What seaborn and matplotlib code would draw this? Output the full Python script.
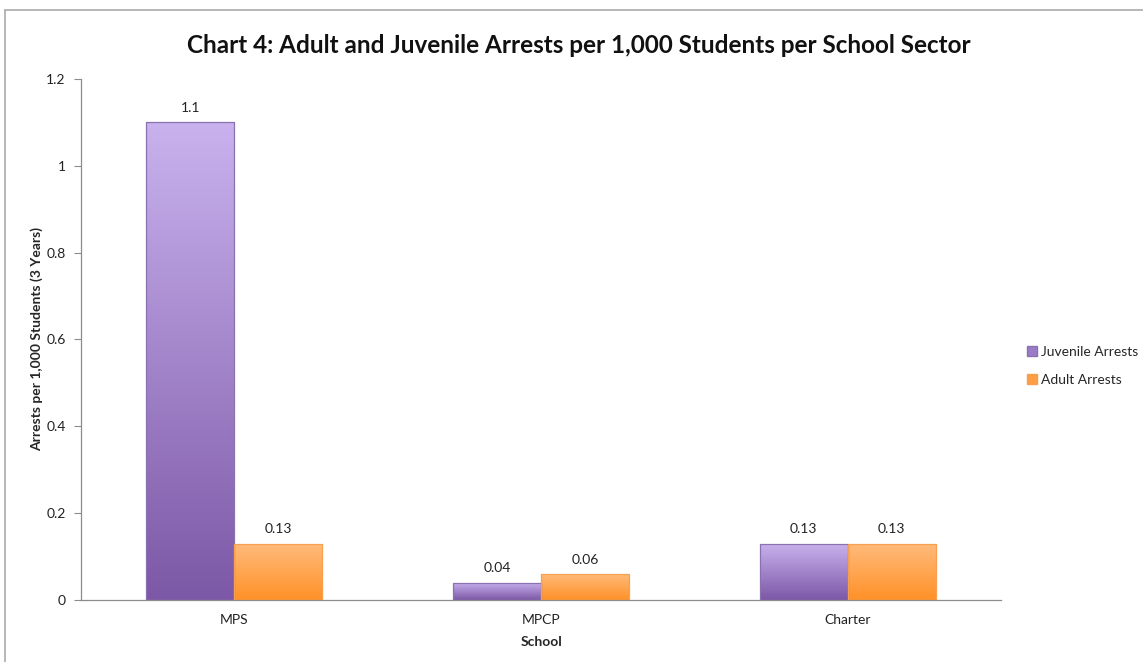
import numpy as np
import pandas as pd
import matplotlib
matplotlib.use("Agg")
import matplotlib.pyplot as plt
import seaborn as sns
from matplotlib.colors import LinearSegmentedColormap
from matplotlib.lines import Line2D
from matplotlib.patches import Patch

schools = ["MPS", "MPCP", "Charter"]
juvenile = [1.1, 0.04, 0.13]
adult = [0.13, 0.06, 0.13]
series = ["Juvenile Arrests", "Adult Arrests"]
yticks = [0, 0.2, 0.4, 0.6, 0.8, 1, 1.2]
ytick_labels = ["0", "0.2", "0.4", "0.6", "0.8", "1", "1.2"]

df = pd.DataFrame({
    "School": schools * 2,
    "Value": juvenile + adult,
    "Series": [series[0]] * 3 + [series[1]] * 3,
})

sns.set_theme(style="white")
plt.rcParams["font.family"] = ["Lato", "DejaVu Sans"]

fig = plt.figure(figsize=(11.43, 6.62), dpi=100)
ax = fig.add_axes([0.0709, 0.0937, 0.8049, 0.787])

edge = {series[0]: "#8a72b0", series[1]: "#f7a050"}
grads = {
    series[0]: ("#c9b2ee", "#7c58a6"),
    series[1]: ("#ffbb7c", "#ff9128"),
}
sns.barplot(data=df, x="School", y="Value", hue="Series", order=schools,
            hue_order=series, palette={series[0]: "#a98bd0", series[1]: "#ffa550"},
            width=0.574, dodge=True, ax=ax, legend=False, saturation=1)

nper = len(schools)
for i, patch in enumerate(ax.patches):
    s = series[i // nper]
    top, bot = grads[s]
    cmap = LinearSegmentedColormap.from_list("g", [bot, top])
    x0, w, h = patch.get_x(), patch.get_width(), patch.get_height()
    grad = np.linspace(0, 1, 256).reshape(-1, 1)
    im = ax.imshow(grad, cmap=cmap, origin="lower", aspect="auto",
                   extent=[x0, x0 + w, 0, h], zorder=2)
    im.set_clip_path(patch)
    patch.set_facecolor("none")
    patch.set_edgecolor(edge[s])
    patch.set_linewidth(0.9)
    patch.set_zorder(3)
    ax.annotate(f"{h:g}", (x0 + w / 2, h), xytext=(0, 6), textcoords="offset points",
                ha="center", va="bottom", fontsize=10, color="#222222")

ax.set_xlim(-0.5, 2.5)
ax.set_ylim(0, 1.2)
ax.set_yticks(yticks)
ax.set_yticklabels(ytick_labels, fontsize=10, color="#222222")
ax.set_xticks([-0.5, 0.5, 1.5, 2.5])
ax.set_xticklabels([])
ax.set_xticks(range(len(schools)), minor=True)
ax.set_xticklabels(schools, minor=True, fontsize=10, color="#222222")
ax.tick_params(axis="x", which="major", length=5, width=0.8, color="#8c8c8c", direction="out")
ax.tick_params(axis="x", which="minor", length=0, pad=10)
ax.tick_params(axis="y", which="major", length=5, width=0.8, color="#8c8c8c", direction="out", left=True, pad=6)

for side in ["top", "right"]:
    ax.spines[side].set_visible(False)
for side in ["left", "bottom"]:
    ax.spines[side].set_color("#8c8c8c")
    ax.spines[side].set_linewidth(0.9)

ax.set_xlabel("School", fontsize=10, fontweight="bold", labelpad=7)
ax.set_ylabel("Arrests per 1,000 Students (3 Years)", fontsize=10, fontweight="bold", labelpad=2)

fig.text(0.506, 0.932, "Chart 4: Adult and Juvenile Arrests per 1,000 Students per School Sector",
         ha="center", va="center", fontsize=17.5, fontweight="bold", color="#111111")

handles = [Patch(facecolor="#9a7cc6", edgecolor=edge[series[0]]),
           Patch(facecolor="#ff9e45", edgecolor=edge[series[1]])]
fig.legend(handles, series, loc="center left", bbox_to_anchor=(0.888, 0.447),
           frameon=False, fontsize=10, handlelength=0.7, handleheight=0.7,
           handletextpad=0.25, labelspacing=1.15)

fig.add_artist(Line2D([0.0045, 0.0045], [0, 0.985], transform=fig.transFigure,
                      color="#aaaaaa", lw=1.2))
fig.add_artist(Line2D([0.0045, 1.0], [0.985, 0.985], transform=fig.transFigure,
                      color="#aaaaaa", lw=1.2))

fig.savefig("out.png", dpi=100, facecolor="white")
